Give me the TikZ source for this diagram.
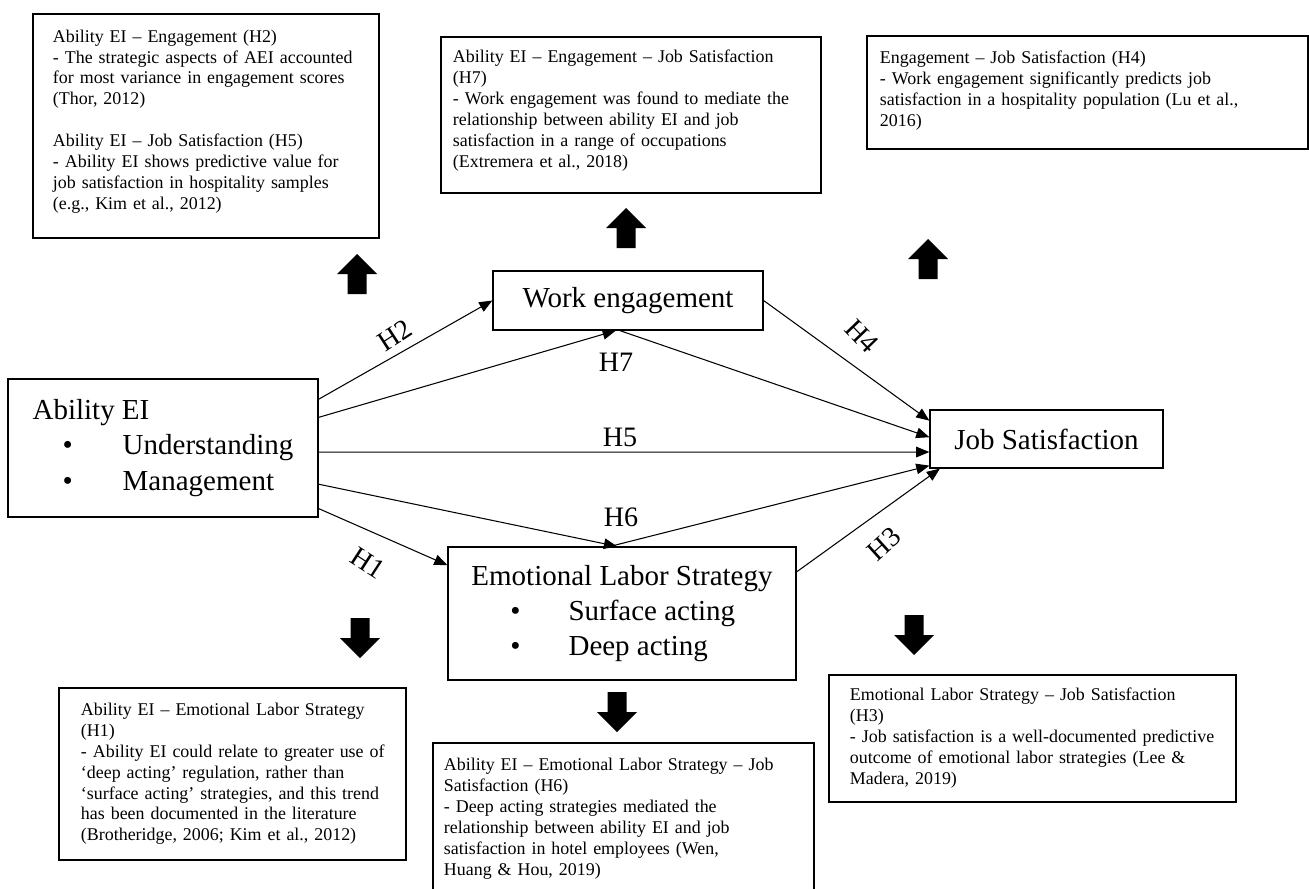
\documentclass[tikz,border=0pt]{standalone}
\usepackage{fontspec}
\setmainfont{Liberation Serif}
\usetikzlibrary{arrows.meta,calc}

\newcommand{\litlines}[1]{\begin{tabular}{@{}l@{}}#1\end{tabular}}

\begin{document}
\begin{tikzpicture}[
    x=0.02cm, y=-0.02cm,
    mainbox/.style={draw, line width=0.7pt, font=\fontsize{16.5}{20}\selectfont, align=left},
    litbox/.style={draw, line width=1.1pt, anchor=north west, font=\fontsize{10.2}{11.9}\selectfont, align=left, inner ysep=0pt},
    link/.style={line width=0.6pt, -{Triangle[length=7.5pt,width=6pt]}},
    hlabel/.style={font=\fontsize{16}{18}\selectfont, inner sep=0pt},
    bigarrow/.pic={\fill (-9.5,0) -- (-9.5,-20) -- (-20,-20) -- (0,-40) -- (20,-20) -- (9.5,-20) -- (9.5,0) -- cycle;}
]
\useasboundingbox (0,0) rectangle (1309,889);

% Literature boxes, top row
\node[litbox, inner xsep=0.4cm, text width=6.12cm, minimum height=4.48cm] (litAE) at (32,13) {\litlines{%
Ability EI – Engagement (H2)\\
- The strategic aspects of AEI accounted\\
for most variance in engagement scores\\
(Thor, 2012)\\
\\
Ability EI – Job Satisfaction (H5)\\
- Ability EI shows predictive value for\\
job satisfaction in hospitality samples\\
(e.g., Kim et al., 2012)\\[5pt]}};

\node[litbox, inner xsep=0.24cm, text width=7.12cm, minimum height=3.12cm] (litAEJ) at (440,36) {\litlines{%
Ability EI – Engagement – Job Satisfaction\\
(H7)\\
- Work engagement was found to mediate the\\
relationship between ability EI and job\\
satisfaction in a range of occupations\\
(Extremera et al., 2018)\\[5pt]}};

\node[litbox, inner xsep=0.26cm, text width=8.3cm, minimum height=2.26cm] (litEJ) at (866,35) {\litlines{%
Engagement – Job Satisfaction (H4)\\
- Work engagement significantly predicts job\\
satisfaction in a hospitality population (Lu et al.,\\
2016)\\[2pt]}};

% Literature boxes, bottom row
\node[litbox, inner xsep=0.44cm, text width=6.06cm, minimum height=3.44cm] (litAL) at (58,687) {\litlines{%
Ability EI – Emotional Labor Strategy\\
(H1)\\
- Ability EI could relate to greater use of\\
‘deep acting’ regulation, rather than\\
‘surface acting’ strategies, and this trend\\
has been documented in the literature\\
(Brotheridge, 2006; Kim et al., 2012)}};

\node[litbox, inner xsep=0.22cm, text width=7.18cm, minimum height=3.04cm] (litALJ) at (432,742) {\litlines{%
Ability EI – Emotional Labor Strategy – Job\\
Satisfaction (H6)\\
- Deep acting strategies mediated the\\
relationship between ability EI and job\\
satisfaction in hotel employees (Wen,\\
Huang \& Hou, 2019)}};

\node[litbox, inner xsep=0.42cm, text width=7.3cm, minimum height=2.54cm] (litLJ) at (828,674) {\litlines{%
Emotional Labor Strategy – Job Satisfaction\\
(H3)\\
- Job satisfaction is a well-documented predictive\\
outcome of emotional labor strategies (Lee \&\\
Madera, 2019)}};

% Model
\node[mainbox, minimum width=6.2cm, minimum height=2.76cm] (aei) at (163,448) {Ability EI\\
\hspace*{0.6cm}\textbullet\hspace{1.0cm}Understanding\\
\hspace*{0.6cm}\textbullet\hspace{1.0cm}Management};
\node[mainbox, minimum width=5.4cm, minimum height=1.18cm] (we) at (628,300.5) {Work engagement};
\node[mainbox, minimum width=4.66cm, minimum height=1.16cm] (js) at (1046.5,439) {Job Satisfaction};
\node[mainbox, minimum width=6.96cm, minimum height=2.66cm] (els) at (622,613.5) {Emotional Labor Strategy\\
\hspace*{0.78cm}\textbullet\hspace{0.96cm}Surface acting\\
\hspace*{0.78cm}\textbullet\hspace{0.96cm}Deep acting};

% Paths
\draw[link] ($(aei.north east)!0.15!(aei.south east)$) -- (we.west);
\draw[link] ($(aei.north east)!0.28!(aei.south east)$) -- ($(we.south west)!0.455!(we.south east)$);
\draw[link] ($(we.south west)!0.47!(we.south east)$) -- ($(js.north west)!0.47!(js.south west)$);
\draw[link] (we.east) -- ($(js.north west)!0.19!(js.south west)$);
\draw[link] ($(aei.north east)!0.53!(aei.south east)$) -- ($(js.north west)!0.72!(js.south west)$);
\draw[link] ($(aei.north east)!0.76!(aei.south east)$) -- ($(els.north west)!0.486!(els.north east)$);
\draw[link] ($(els.north west)!0.466!(els.north east)$) -- ($(js.north west)!0.95!(js.south west)$);
\draw[link] ($(els.north east)!0.19!(els.south east)$) -- ($(js.south west)!0.045!(js.south east)$);
\draw[link] ($(aei.north east)!0.935!(aei.south east)$) -- ($(els.north west)!0.14!(els.south west)$);

% Path labels
\node[hlabel, rotate=33] (lH2) at (395,335) {H2};
\node[hlabel] (lH7) at (616,362) {H7};
\node[hlabel, rotate=-46] (lH4) at (862,336) {H4};
\node[hlabel] (lH5) at (620,437) {H5};
\node[hlabel] (lH6) at (621,517) {H6};
\node[hlabel, rotate=-33] (lH1) at (368,563) {H1};
\node[hlabel, rotate=42] (lH3) at (884,544) {H3};

% Block arrows to the literature
\pic at (357,294) {bigarrow};
\pic at (626,248) {bigarrow};
\pic at (928,279) {bigarrow};
\pic[rotate=180] at (360,618) {bigarrow};
\pic[rotate=180] at (617,692) {bigarrow};
\pic[rotate=180] at (914,615) {bigarrow};

\end{tikzpicture}
\end{document}
